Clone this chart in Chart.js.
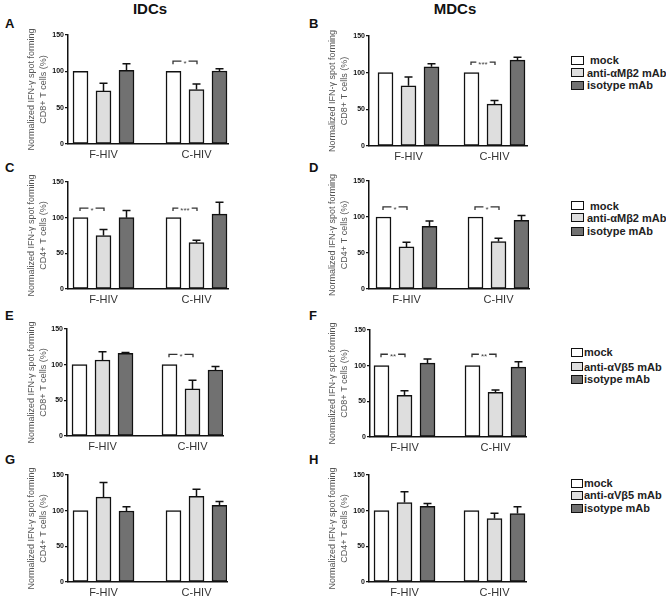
<!DOCTYPE html>
<html>
<head>
<meta charset="utf-8">
<script src="https://cdn.jsdelivr.net/npm/chart.js@4.4.0/dist/chart.umd.min.js"></script>
<style>
  body { margin: 0; background: #fff; font-family: Arial, "Liberation Sans", sans-serif; }
  #fig { position: relative; width: 666px; height: 597px; overflow: hidden; }
  #fig canvas { position: absolute; }
  .coltitle { position: absolute; font-weight: bold; font-size: 15px; transform: translate(-50%, -50%); color: #111; }
  .letter { position: absolute; font-weight: bold; font-size: 13px; transform: translateY(-50%); color: #111; }
  .lg-row { position: absolute; height: 12px; font-weight: bold; font-size: 11px; color: #222; white-space: pre; }
  .lg-box { position: absolute; top: 1.5px; height: 9px; box-sizing: border-box; border: 1.5px solid #111; }
  .lg-text { position: absolute; top: 50%; transform: translateY(-50%); line-height: 12px; }
</style>
</head>
<body>
<div id="fig">
  <div class="coltitle" style="left:150px;top:8px">IDCs</div>
  <div class="coltitle" style="left:455px;top:8px">MDCs</div>
</div>
<script>
Chart.defaults.font.family = 'Arial, "Liberation Sans", sans-serif';
Chart.defaults.animation = false;

const groups = ['F-HIV', 'C-HIV'];
const namesMb2 = [' mock', 'anti-αMβ2 mAb', 'isotype mAb'];
const namesVb5 = ['mock', 'anti-αVβ5 mAb', 'isotype mAb'];
const titleCD8 = ['Normalized IFN-γ spot forming', 'CD8+ T cells (%)'];
const titleCD4 = ['Normalized IFN-γ spot forming', 'CD4+ T cells (%)'];
const fills = ['#ffffff', '#dedede', '#717171'];

const mock = [100, 100];

// IDCs
const antiA = [73, 75],     antiErrA = [10.5, 7.5], isoA = [101.5, 100.5], isoErrA = [9, 3];
const antiC = [75, 65],     antiErrC = [8.5, 3.5],  isoC = [100, 105],     isoErrC = [10, 16.5];
const antiE = [106.5, 66],  antiErrE = [11.5, 12],  isoE = [116, 92.5],    isoErrE = [1, 5];
const antiG = [119, 120],   antiErrG = [20.5, 10],  isoG = [99.5, 107.5],  isoErrG = [6, 5.5];
// MDCs
const antiB = [82, 57],     antiErrB = [12, 5],     isoB = [108, 117],     isoErrB = [4, 4];
const antiD = [58.5, 66],   antiErrD = [6.5, 4.5],  isoD = [87, 95.5],     isoErrD = [7.5, 6.5];
const antiF = [58.5, 62.5], antiErrF = [6.5, 3.5],  isoF = [103.5, 98],    isoErrF = [6, 7.5];
const antiH = [111.5, 89],  antiErrH = [15, 7.5],   isoH = [106, 96],      isoErrH = [4, 9.5];

// significance marks (mock vs anti), per group
const sigA = ['', '*'],    sigB = ['', '***'], sigC = ['*', '***'], sigD = ['*', '*'];
const sigE = ['', '*'],    sigF = ['**', '**'], sigG = ['', ''],    sigH = ['', ''];
const sigLevelA = 114, sigLevelB = 114.5, sigLevelC = 113.5, sigLevelD = 114;
const sigLevelE = 114.5, sigLevelF = 116, sigLevelG = 0, sigLevelH = 0;

// page layout of each panel (pixels)
const panels = [
  { id: 'A', anti: antiA, antiErr: antiErrA, iso: isoA, isoErr: isoErrA, sig: sigA, lvl: sigLevelA, yTitle: titleCD8,
    L: 68, R: 228, T: 35, B: 144, g1: 73, g2: 166, tx: 31.7, letter: [5, 22.7] },
  { id: 'B', anti: antiB, antiErr: antiErrB, iso: isoB, isoErr: isoErrB, sig: sigB, lvl: sigLevelB, yTitle: titleCD8,
    L: 369, R: 527, T: 36, B: 146, g1: 378, g2: 464, tx: 332.7, letter: [309, 22.7],
    legend: { names: namesMb2, x: 571, w: 13, tx: 587, rows: [60, 72.5, 85] } },
  { id: 'C', anti: antiC, antiErr: antiErrC, iso: isoC, isoErr: isoErrC, sig: sigC, lvl: sigLevelC, yTitle: titleCD4,
    L: 68, R: 228, T: 182, B: 289, g1: 73, g2: 166, tx: 31.7, letter: [5, 166.7] },
  { id: 'D', anti: antiD, antiErr: antiErrD, iso: isoD, isoErr: isoErrD, sig: sigD, lvl: sigLevelD, yTitle: titleCD4,
    L: 369, R: 529, T: 181, B: 289, g1: 376, g2: 468, tx: 332.7, letter: [309, 167],
    legend: { names: namesMb2, x: 571, w: 13, tx: 587, rows: [205.7, 217.7, 231] } },
  { id: 'E', anti: antiE, antiErr: antiErrE, iso: isoE, isoErr: isoErrE, sig: sigE, lvl: sigLevelE, yTitle: titleCD8,
    L: 67, R: 223, T: 329, B: 436, g1: 72, g2: 162, tx: 31.7, letter: [5, 315] },
  { id: 'F', anti: antiF, antiErr: antiErrF, iso: isoF, isoErr: isoErrF, sig: sigF, lvl: sigLevelF, yTitle: titleCD8,
    L: 370, R: 526, T: 330, B: 437, g1: 374, g2: 465, tx: 333, letter: [309, 315],
    legend: { names: namesVb5, x: 571, w: 12, tx: 584, rows: [352.3, 366.7, 379] } },
  { id: 'G', anti: antiG, antiErr: antiErrG, iso: isoG, isoErr: isoErrG, sig: sigG, lvl: sigLevelG, yTitle: titleCD4,
    L: 68, R: 227, T: 475, B: 582, g1: 73, g2: 166, tx: 31.7, letter: [5, 459.3] },
  { id: 'H', anti: antiH, antiErr: antiErrH, iso: isoH, isoErr: isoErrH, sig: sigH, lvl: sigLevelH, yTitle: titleCD4,
    L: 369, R: 526, T: 475, B: 582, g1: 374, g2: 464, tx: 333, letter: [309, 459.3],
    legend: { names: namesVb5, x: 571, w: 12, tx: 584, rows: [483, 495, 508.3] } }
];

const errorBars = {
  id: 'errorBars',
  afterDatasetsDraw(chart) {
    const ctx = chart.ctx;
    const y = chart.scales.y;
    chart.data.datasets.forEach((ds, i) => {
      if (!ds.err) return;
      chart.getDatasetMeta(i).data.forEach((bar, j) => {
        if (!ds.err[j]) return;
        const top = y.getPixelForValue(ds.data[j].y + ds.err[j]);
        ctx.save();
        ctx.strokeStyle = '#111';
        ctx.lineWidth = 1.5;
        ctx.beginPath();
        ctx.moveTo(bar.x, bar.y);
        ctx.lineTo(bar.x, top);
        ctx.moveTo(bar.x - 4, top);
        ctx.lineTo(bar.x + 4, top);
        ctx.stroke();
        ctx.restore();
      });
    });
  }
};

function sigBracket(marks, level) {
  return {
    id: 'sigBracket',
    afterDatasetsDraw(chart) {
      const ctx = chart.ctx;
      const y = chart.scales.y.getPixelForValue(level);
      const m0 = chart.getDatasetMeta(0).data, m1 = chart.getDatasetMeta(1).data;
      marks.forEach((mark, j) => {
        if (!mark) return;
        const x1 = m0[j].x - 0.5, x2 = m1[j].x + 0.5, xm = (x1 + x2) / 2;
        ctx.save();
        ctx.font = '8px Arial, "Liberation Sans", sans-serif';
        const half = ctx.measureText(mark).width / 2 + 2;
        ctx.strokeStyle = '#333';
        ctx.lineWidth = 1.3;
        ctx.beginPath();
        ctx.moveTo(x1, y + 3); ctx.lineTo(x1, y); ctx.lineTo(xm - half, y);
        ctx.moveTo(xm + half, y); ctx.lineTo(x2, y); ctx.lineTo(x2, y + 3);
        ctx.stroke();
        ctx.fillStyle = '#444';
        ctx.textAlign = 'center';
        ctx.textBaseline = 'middle';
        ctx.fillText(mark, xm, y + 2.5);
        ctx.restore();
      });
    }
  };
}

const fig = document.getElementById('fig');

panels.forEach(p => {
  const cx = Math.round(p.tx - 5.8);
  const cy = p.T - 8;
  const cw = p.R + 6 - cx;
  const ch = p.B + 20 - cy;
  const canvas = document.createElement('canvas');
  canvas.width = cw; canvas.height = ch;
  canvas.style.left = cx + 'px'; canvas.style.top = cy + 'px';
  canvas.style.width = cw + 'px'; canvas.style.height = ch + 'px';
  fig.appendChild(canvas);

  // x scale: groups at 0 and 1, placed where the bar groups sit
  const c1 = p.g1 + 30.5, c2 = p.g2 + 30.5, k = c2 - c1;
  const xMin = -(c1 - p.L) / k, xMax = 1 + (p.R - c2) / k;

  const series = [mock, p.anti, p.iso];
  const errs = [null, p.antiErr, p.isoErr];
  const names = (p.legend ? p.legend.names : namesMb2);

  new Chart(canvas, {
    type: 'bar',
    data: {
      datasets: series.map((vals, i) => ({
        label: names[i].trim(),
        data: groups.map((g, j) => ({ x: j, y: vals[j] })),
        err: errs[i],
        backgroundColor: fills[i],
        borderColor: '#111',
        borderWidth: 1.5,
        borderSkipped: false,
        barThickness: 23,
        maxBarThickness: 15
      }))
    },
    options: {
      responsive: false,
      devicePixelRatio: 1,
      layout: { padding: { top: 8, right: 6, left: 0, bottom: 0 } },
      plugins: { legend: { display: false }, tooltip: { enabled: false } },
      scales: {
        x: {
          type: 'linear',
          bounds: 'data',
          offset: false,
          min: xMin,
          max: xMax,
          afterBuildTicks: s => {
            s.ticks = groups.map((g, j) => ({ value: j }));
            s.min = xMin;
            s.max = xMax;
          },
          afterFit: s => { s.height = 20; },
          grid: { display: false, drawTicks: false },
          border: { display: true, color: '#111', width: 1.5 },
          ticks: { callback: v => groups[v], font: { size: 11 }, color: '#333', padding: 4, maxRotation: 0, autoSkip: false }
        },
        y: {
          min: 0,
          max: 150,
          afterFit: s => { s.width = p.L - cx; },
          grid: { display: true, drawOnChartArea: false, drawTicks: true, tickLength: 3, color: '#111', lineWidth: 1.3 },
          border: { display: true, color: '#111', width: 1.5 },
          ticks: { stepSize: 50, font: { size: 7, weight: 'bold' }, color: '#111', padding: 1 },
          title: { display: true, text: p.yTitle, font: { size: 9, lineHeight: 1.29 }, color: '#555', padding: 0 }
        }
      }
    },
    plugins: [errorBars, sigBracket(p.sig, p.lvl)]
  });

  const letter = document.createElement('div');
  letter.className = 'letter';
  letter.textContent = p.id;
  letter.style.left = p.letter[0] + 'px';
  letter.style.top = p.letter[1] + 'px';
  fig.appendChild(letter);

  if (p.legend) {
    p.legend.names.forEach((name, i) => {
      const row = document.createElement('div');
      row.className = 'lg-row';
      row.style.left = p.legend.x + 'px';
      row.style.top = (p.legend.rows[i] - 6) + 'px';
      const box = document.createElement('div');
      box.className = 'lg-box';
      box.style.left = '0px';
      box.style.width = p.legend.w + 'px';
      box.style.background = fills[i];
      const txt = document.createElement('div');
      txt.className = 'lg-text';
      txt.style.left = (p.legend.tx - p.legend.x) + 'px';
      txt.textContent = name;
      row.appendChild(box);
      row.appendChild(txt);
      fig.appendChild(row);
    });
  }
});
</script>
</body>
</html>
